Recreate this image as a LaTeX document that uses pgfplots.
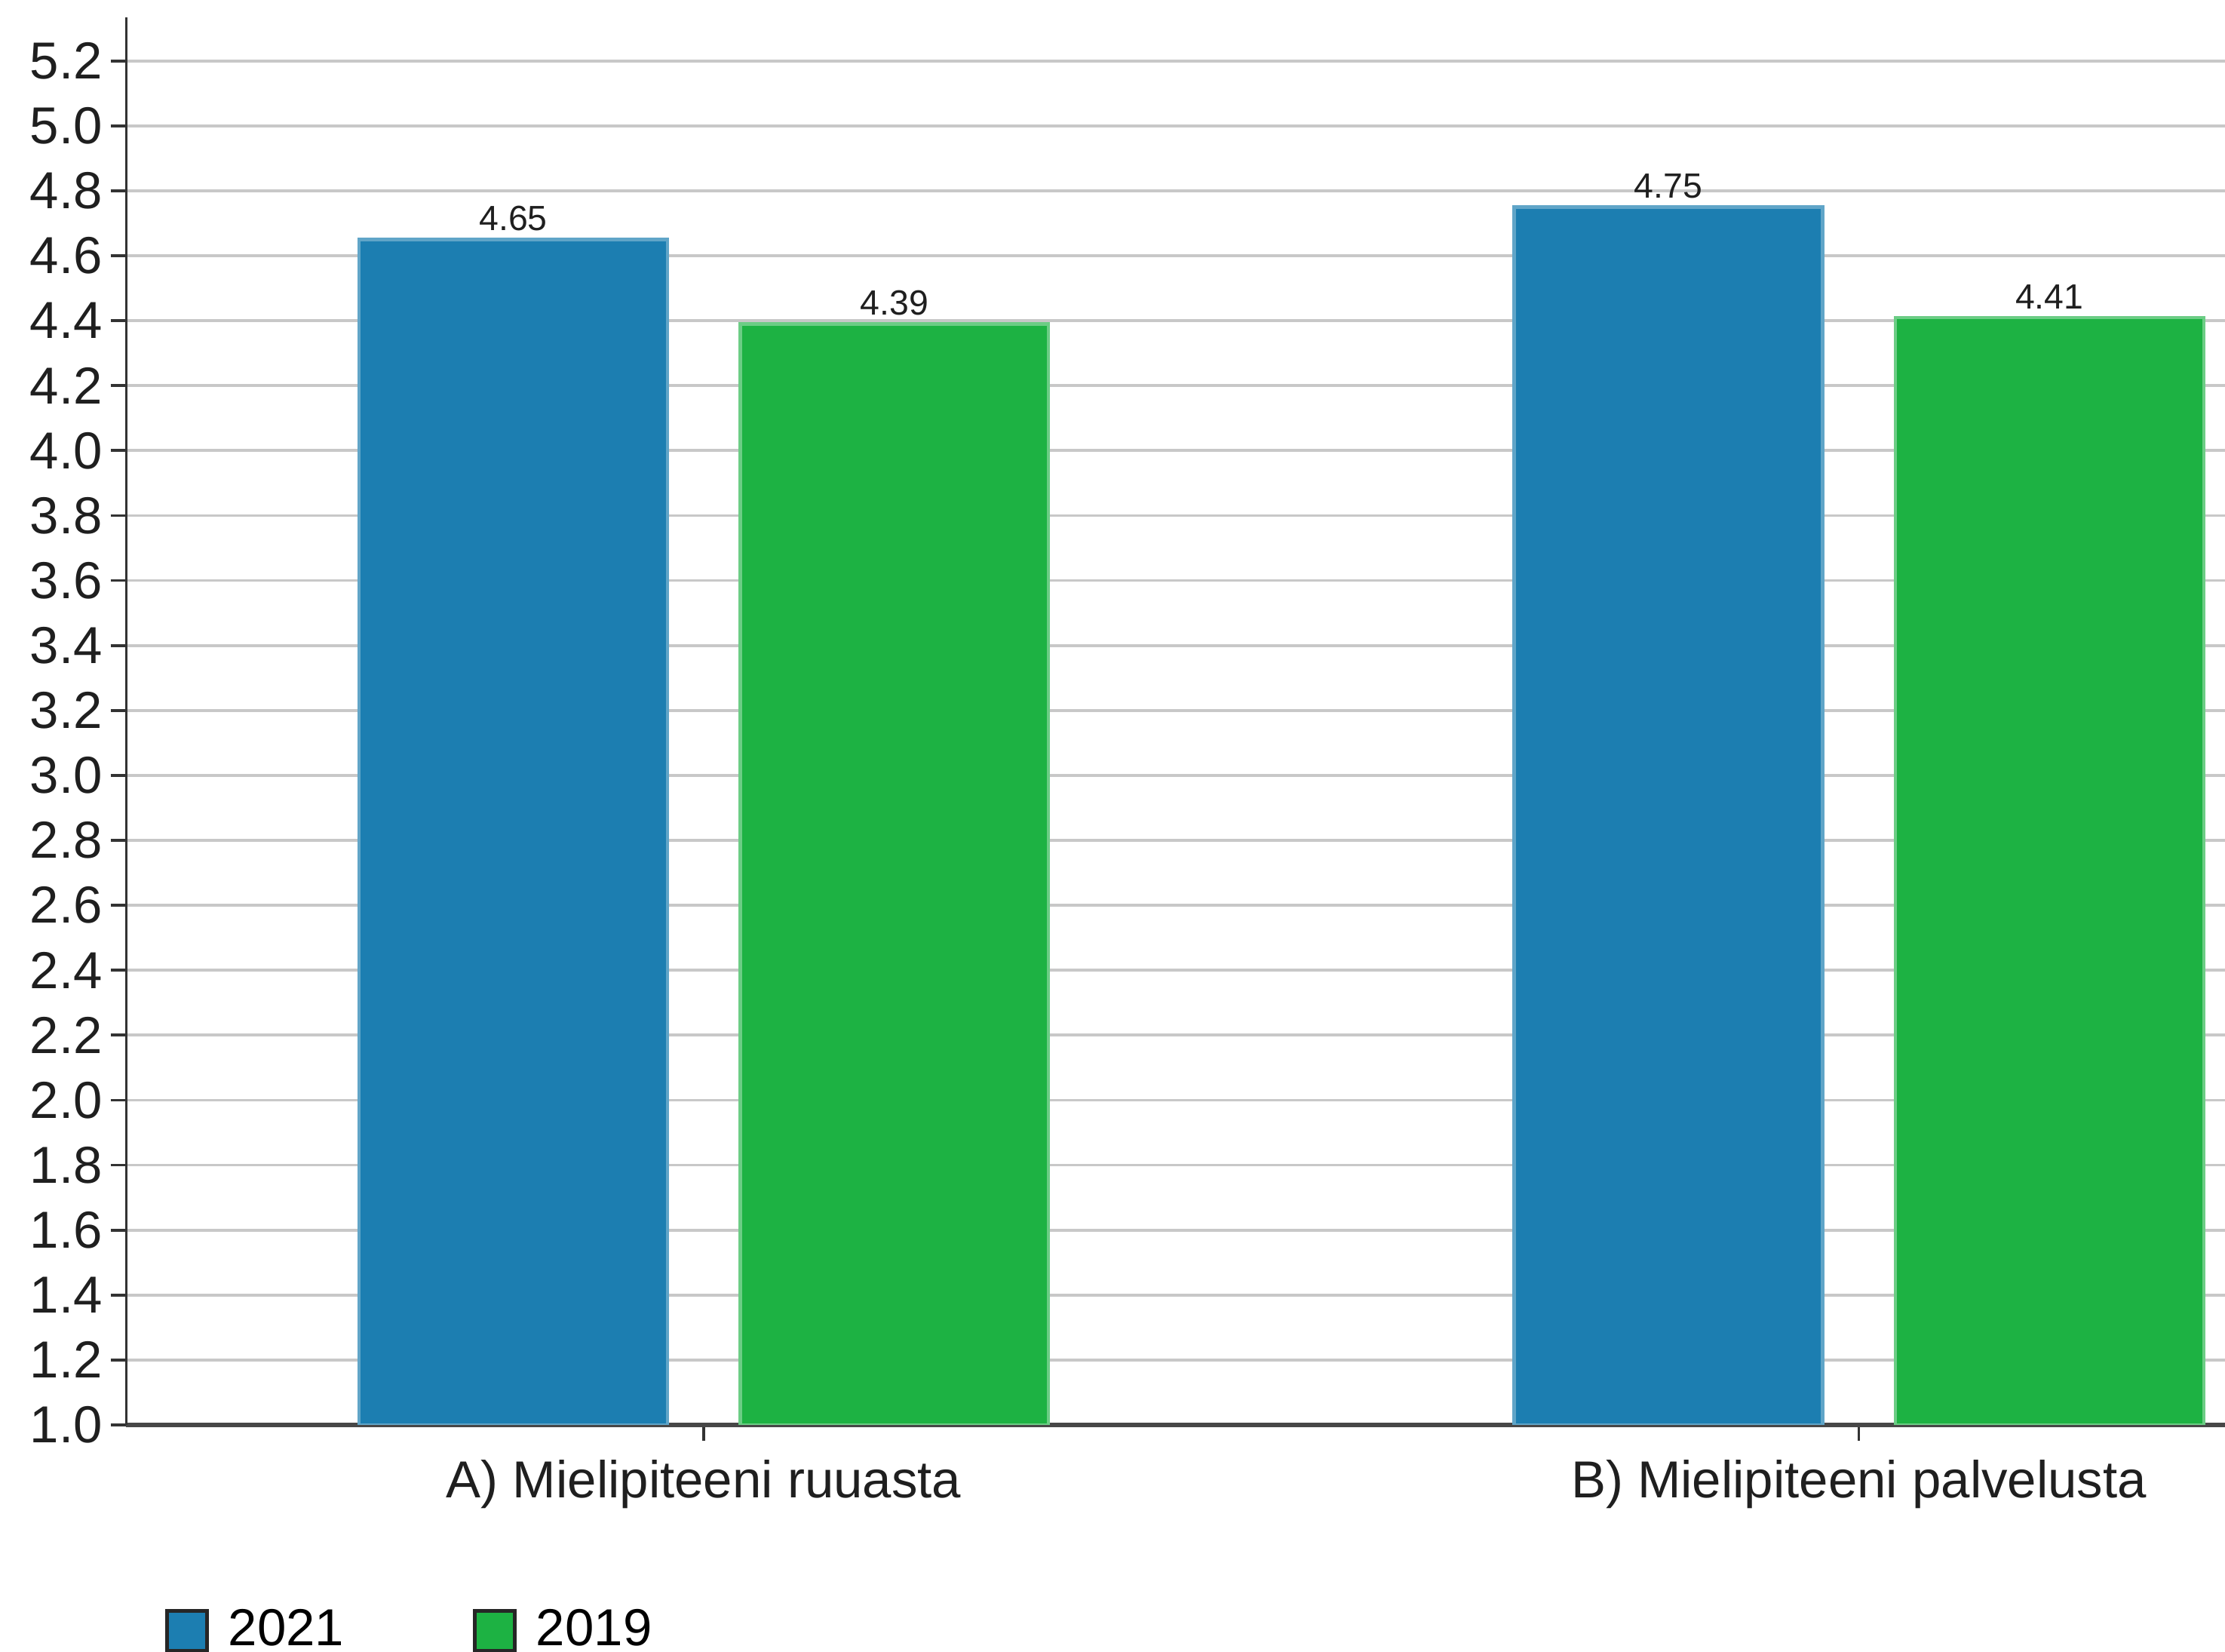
\documentclass[border=0pt]{standalone}
\usepackage{fontspec}
\setmainfont{Liberation Sans}
\usepackage{pgfplots}
\pgfplotsset{compat=1.18}
\definecolor{cblue}{RGB}{28,126,177}
\definecolor{cgreen}{RGB}{29,178,67}
\definecolor{gridc}{RGB}{200,200,200}
\begin{document}
\begin{tikzpicture}
\begin{axis}[
  name=ax,
  scale only axis,
  width=443.7pt, height=297.6pt,
  xmin=-0.5, xmax=1.317,
  ymin=1, ymax=5.335,
  axis x line*=bottom, axis y line*=left,
  x axis line style={draw=black!72, line width=0.9pt},
  y axis line style={draw=black!80, line width=0.6pt},
  xtick={0,1},
  xticklabels={A) Mielipiteeni ruuasta, B) Mielipiteeni palvelusta},
  ytick={1.0,1.2,1.4,1.6,1.8,2.0,2.2,2.4,2.6,2.8,3.0,3.2,3.4,3.6,3.8,4.0,4.2,4.4,4.6,4.8,5.0,5.2},
  tick align=outside,
  major tick length=3.3pt,
  tick style={draw=black!80, line width=0.6pt},
  ymajorgrids, grid style={draw=gridc, line width=0.6pt},
  /pgf/number format/assume math mode=true,
  yticklabel style={/pgf/number format/.cd, fixed, fixed zerofill, precision=1, /tikz/.cd, xshift=1.8pt},
  xticklabel style={yshift=-0.6pt},
  ticklabel style={font=\fontsize{11}{13}\selectfont, text=black!88},
  legend style={at={(0,0)}, anchor=west, xshift=8pt, yshift=-43.5pt, draw=none, fill=none,
    inner sep=0pt, font=\fontsize{11}{13}\selectfont,
    /tikz/every odd column/.append style={column sep=2.2pt},
    /tikz/every even column/.append style={column sep=25.2pt}},
  legend columns=2,
  legend cell align=left,
  legend image code/.code={\draw[#1, draw=black!85, line width=0.8pt] (0pt,-4.2pt) rectangle (8.4pt,4.2pt);},
  nodes near coords style={font=\fontsize{7.4}{8.5}\selectfont, text=black!88, yshift=-1.8pt},
]
\addplot[ybar, bar width=0.267, bar shift=0pt, fill=cblue, draw=cblue!70!white, line width=0.7pt, nodes near coords]
  coordinates {(-0.165,4.65) (0.835,4.75)};
\addlegendentry{2021}
\addplot[ybar, bar width=0.267, bar shift=0pt, fill=cgreen, draw=cgreen!65!white, line width=0.7pt, nodes near coords]
  coordinates {(0.165,4.39) (1.165,4.41)};
\addlegendentry{2019}
\end{axis}
\pgfresetboundingbox
\path[use as bounding box] (ax.south west) ++(-26.7pt,-48pt) rectangle ++(470.4pt,349.2pt);
\end{tikzpicture}
\end{document}
